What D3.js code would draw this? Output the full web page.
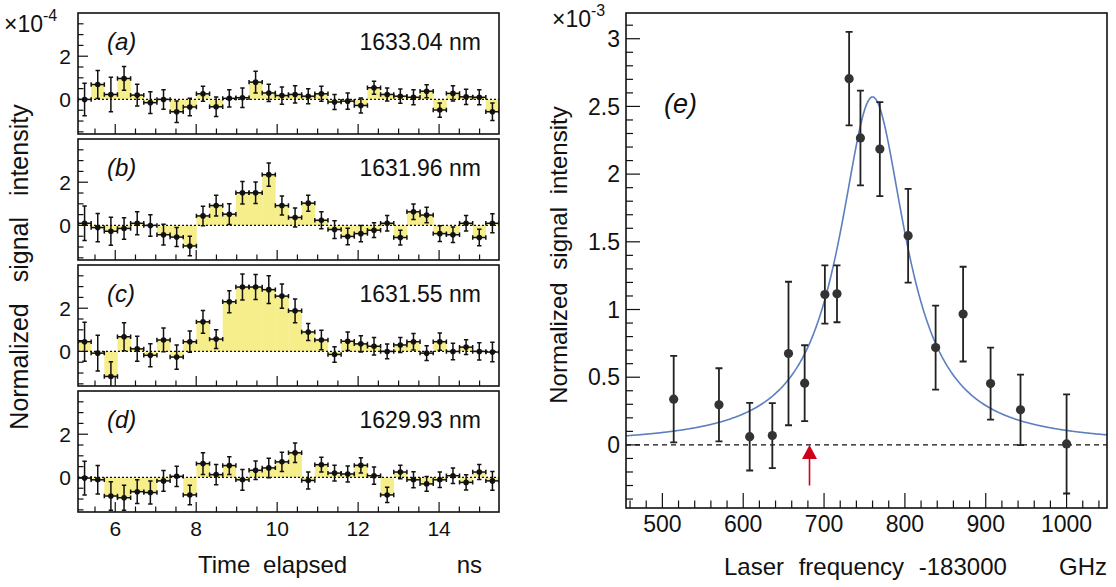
<!DOCTYPE html>
<html lang="en">
<head>
  <meta charset="UTF-8">
  <title>Normalized signal intensity</title>
  <style>
    body { margin: 0; background: #fff; }
    svg { display: block; font-family: "Liberation Sans", Arial, Helvetica, sans-serif; }
  </style>
</head>
<body>
  <svg id="chart" width="1116" height="587"></svg>

  <script src="https://d3js.org/d3.v7.min.js"></script>
  <script>
    // ---- data: panels (a)-(d), histogram bins in ns ----
    const binStart = 5.08;
    const binWidth = 0.325;
    const panelTags = ["(a)", "(b)", "(c)", "(d)"];
    const wavelengths = ["1633.04 nm", "1631.96 nm", "1631.55 nm", "1629.93 nm"];

    const sigA = [0.0, 0.69, 0.23, 0.97, 0.2, -0.15, 0.0, -0.57, -0.35, 0.26, -0.34, 0.05, 0.08, 0.8, 0.3, 0.18,
                  0.23, 0.15, 0.26, -0.12, -0.08, -0.28, 0.54, 0.23, 0.15, 0.1, 0.38, -0.49, 0.28, 0.12, 0.1, -0.57];
    const errA = [0.75, 0.65, 0.8, 0.55, 0.5, 0.5, 0.45, 0.5, 0.4, 0.35, 0.45, 0.4, 0.45, 0.5, 0.4, 0.4,
                  0.4, 0.35, 0.35, 0.35, 0.38, 0.35, 0.3, 0.3, 0.33, 0.35, 0.3, 0.33, 0.35, 0.35, 0.35, 0.4];

    const sigB = [0.1, -0.1, -0.27, -0.14, 0.1, 0.0, -0.43, -0.54, -0.95, 0.44, 0.92, 0.52, 1.51, 1.51, 2.35, 0.92,
                  0.37, 1.03, 0.24, -0.19, -0.51, -0.38, -0.22, 0.1, -0.56, 0.63, 0.48, -0.38, -0.43, 0.1, -0.56, 0.1];
    const errB = [0.8, 0.65, 0.65, 0.5, 0.53, 0.5, 0.48, 0.44, 0.45, 0.45, 0.48, 0.48, 0.52, 0.5, 0.54, 0.44,
                  0.44, 0.37, 0.39, 0.41, 0.38, 0.38, 0.34, 0.36, 0.34, 0.36, 0.36, 0.36, 0.36, 0.36, 0.38, 0.44];

    const sigC = [0.45, -0.08, -1.16, 0.68, 0.12, -0.18, 0.53, -0.26, 0.45, 1.37, 0.57, 2.3, 2.98, 2.98, 2.86, 2.56,
                  1.88, 0.9, 0.53, -0.14, 0.47, 0.35, 0.24, 0.0, 0.3, 0.45, -0.08, 0.45, 0.0, 0.2, 0.0, -0.03];
    const errC = [0.9, 0.83, 0.68, 0.65, 0.58, 0.53, 0.55, 0.56, 0.49, 0.53, 0.43, 0.51, 0.6, 0.58, 0.64, 0.56,
                  0.55, 0.39, 0.45, 0.36, 0.43, 0.38, 0.41, 0.34, 0.35, 0.38, 0.34, 0.4, 0.38, 0.34, 0.4, 0.45];

    const sigD = [-0.03, -0.11, -0.86, -0.94, -0.66, -0.7, -0.16, 0.05, -0.81, 0.64, 0.13, 0.55, -0.11, 0.33, 0.44, 0.72,
                  1.14, -0.14, 0.59, 0.2, 0.16, 0.56, 0.08, -0.81, 0.25, -0.11, -0.3, -0.11, 0.08, -0.23, 0.25, -0.16];
    const errD = [0.78, 0.66, 0.66, 0.58, 0.55, 0.53, 0.48, 0.47, 0.45, 0.5, 0.47, 0.41, 0.48, 0.43, 0.45, 0.44,
                  0.45, 0.39, 0.34, 0.36, 0.37, 0.35, 0.4, 0.35, 0.31, 0.37, 0.34, 0.36, 0.36, 0.35, 0.35, 0.43];

    const timeTicks = [6, 8, 10, 12, 14];
    const sigTicks = [0, 2];

    // ---- data: panel (e) ----
    const freq  = [514, 570, 608, 636, 656, 676, 701, 716, 731, 745, 769, 804, 838, 872, 906, 943, 1000];
    const inten = [0.338, 0.296, 0.061, 0.069, 0.675, 0.456, 1.111, 1.116, 2.705, 2.267, 2.185, 1.545, 0.719, 0.966, 0.453, 0.259, 0.007];
    const ierr  = [0.32, 0.27, 0.25, 0.24, 0.53, 0.28, 0.215, 0.21, 0.345, 0.35, 0.347, 0.346, 0.31, 0.35, 0.266, 0.26, 0.366];

    // Lorentzian fit
    const fitAmp = 2.57, fitCenter = 760, fitHalfWidth = 50;
    const arrowFreq = 682;

    const freqTicks = [500, 600, 700, 800, 900, 1000];
    const intenTicks = [0, 0.5, 1, 1.5, 2, 2.5, 3];

    const yellow = "#f6ee8a";
    const ink = "#111";

    const svg = d3.select("#chart");

    // =========== left panels ===========
    const series = [[sigA, errA], [sigB, errB], [sigC, errC], [sigD, errD]];
    const left = 78, right = 499, panelH = 121;
    const panelTops = [13, 139, 265, 391];

    const x = d3.scaleLinear().domain([5.08, 15.48]).range([left, right]);

    series.forEach(([vals, errs], p) => {
      const top = panelTops[p];
      const y = d3.scaleLinear().domain([-1.6, 4.0]).range([top + panelH, top]);
      const g = svg.append("g");

      g.append("clipPath").attr("id", "clip" + p)
        .append("rect").attr("x", left).attr("y", top).attr("width", right - left).attr("height", panelH);

      const bins = vals.map((v, i) => ({
        x0: binStart + i * binWidth,
        x1: binStart + (i + 1) * binWidth,
        v: v,
        e: errs[i]
      }));

      const plot = g.append("g").attr("clip-path", `url(#clip${p})`);

      plot.selectAll("rect.bar")
        .data(bins)
        .join("rect")
        .attr("class", "bar")
        .attr("x", d => x(d.x0))
        .attr("width", d => x(d.x1) - x(d.x0) + 0.3)
        .attr("y", d => Math.min(y(0), y(d.v)))
        .attr("height", d => Math.abs(y(0) - y(d.v)))
        .attr("fill", yellow);

      plot.append("line")
        .attr("x1", left).attr("x2", right)
        .attr("y1", y(0)).attr("y2", y(0))
        .attr("stroke", ink).attr("stroke-width", 1.2)
        .attr("stroke-dasharray", "2,2");

      const pt = plot.selectAll("g.pt")
        .data(bins)
        .join("g")
        .attr("class", "pt")
        .attr("stroke", ink)
        .attr("stroke-width", 1.5);

      const cap = 2.2;
      pt.append("line")
        .attr("x1", d => x(d.x0)).attr("x2", d => x(d.x1))
        .attr("y1", d => y(d.v)).attr("y2", d => y(d.v));
      pt.append("line")
        .attr("x1", d => x((d.x0 + d.x1) / 2)).attr("x2", d => x((d.x0 + d.x1) / 2))
        .attr("y1", d => y(d.v - d.e)).attr("y2", d => y(d.v + d.e));
      // caps
      pt.append("path")
        .attr("fill", "none")
        .attr("d", d => {
          const cx = x((d.x0 + d.x1) / 2), cy = y(d.v);
          const ya = y(d.v + d.e), yb = y(d.v - d.e);
          return `M${cx - cap},${ya}H${cx + cap}M${cx - cap},${yb}H${cx + cap}` +
                 `M${x(d.x0)},${cy - cap}V${cy + cap}M${x(d.x1)},${cy - cap}V${cy + cap}`;
        });
      pt.append("circle")
        .attr("cx", d => x((d.x0 + d.x1) / 2))
        .attr("cy", d => y(d.v))
        .attr("r", 2.8)
        .attr("fill", ink)
        .attr("stroke", "none");

      // y ticks (inside)
      const yMinor = d3.range(-1.5, 4.0, 0.5);
      g.selectAll("line.ym")
        .data(yMinor)
        .join("line")
        .attr("x1", left).attr("x2", d => left + (sigTicks.includes(d) ? 10 : 5.5))
        .attr("y1", d => y(d)).attr("y2", d => y(d))
        .attr("stroke", ink).attr("stroke-width", 1.2);

      g.selectAll("text.yl")
        .data(sigTicks)
        .join("text")
        .attr("x", left - 7)
        .attr("y", d => y(d))
        .attr("dy", "0.36em")
        .attr("text-anchor", "end")
        .attr("font-size", 21)
        .attr("fill", ink)
        .text(d => d);

      // x ticks (inside, from bottom edge)
      const xMinor = d3.range(5.5, 15.5, 0.5);
      g.selectAll("line.xm")
        .data(xMinor)
        .join("line")
        .attr("x1", d => x(d)).attr("x2", d => x(d))
        .attr("y1", top + panelH)
        .attr("y2", d => top + panelH - (timeTicks.includes(d) ? 10 : 5.5))
        .attr("stroke", ink).attr("stroke-width", 1.2);

      // frame
      g.append("rect")
        .attr("x", left).attr("y", top)
        .attr("width", right - left).attr("height", panelH)
        .attr("fill", "none").attr("stroke", ink).attr("stroke-width", 1.6);

      g.append("text")
        .attr("x", 107).attr("y", top + 37)
        .attr("font-size", 24).attr("font-style", "italic").attr("fill", ink)
        .text(panelTags[p]);

      g.append("text")
        .attr("x", 481).attr("y", top + 37)
        .attr("text-anchor", "end")
        .attr("font-size", 23).attr("fill", ink)
        .text(wavelengths[p]);

      if (p === 3) {
        g.selectAll("text.xl")
          .data(timeTicks)
          .join("text")
          .attr("x", d => x(d))
          .attr("y", 536)
          .attr("text-anchor", "middle")
          .attr("font-size", 21)
          .attr("fill", ink)
          .text(d => d);
      }
    });

    // exponent label for left panels
    const expL = svg.append("text").attr("x", 4).attr("y", 32).attr("fill", ink).attr("font-size", 23);
    expL.append("tspan").text("×10");
    expL.append("tspan").attr("font-size", 16).attr("dy", -11).text("-4");

    svg.append("text")
      .attr("transform", "translate(28,267) rotate(-90)")
      .attr("text-anchor", "middle")
      .attr("font-size", 25)
      .attr("word-spacing", 14)
      .attr("fill", ink)
      .text("Normalized signal intensity");

    svg.append("text")
      .attr("x", 198).attr("y", 573)
      .attr("font-size", 24).attr("word-spacing", 6).attr("fill", ink)
      .text("Time elapsed");
    svg.append("text")
      .attr("x", 482).attr("y", 573)
      .attr("text-anchor", "end")
      .attr("font-size", 24).attr("fill", ink)
      .text("ns");

    // =========== panel (e) ===========
    const eL = 626, eR = 1107, eT = 13, eB = 508;
    const fx = d3.scaleLinear().domain([455, 1050]).range([eL, eR]);
    const fy = d3.scaleLinear().domain([-0.466, 3.19]).range([eB, eT]);
    const ge = svg.append("g");

    ge.append("clipPath").attr("id", "clipE")
      .append("rect").attr("x", eL).attr("y", eT).attr("width", eR - eL).attr("height", eB - eT);
    const pe = ge.append("g").attr("clip-path", "url(#clipE)");

    pe.append("line")
      .attr("x1", eL).attr("x2", eR)
      .attr("y1", fy(0)).attr("y2", fy(0))
      .attr("stroke", ink).attr("stroke-width", 1.4)
      .attr("stroke-dasharray", "5,4");

    const fitPts = d3.range(455, 1051, 1).map(f => [f, fitAmp / (1 + ((f - fitCenter) / fitHalfWidth) ** 2)]);
    pe.append("path")
      .datum(fitPts)
      .attr("fill", "none")
      .attr("stroke", "#5b7fbf")
      .attr("stroke-width", 1.6)
      .attr("d", d3.line().x(d => fx(d[0])).y(d => fy(d[1])));

    // arrow
    const ax = fx(arrowFreq);
    pe.append("line")
      .attr("x1", ax).attr("x2", ax)
      .attr("y1", fy(0) + 12).attr("y2", fy(-0.3))
      .attr("stroke", "#d0021b").attr("stroke-width", 1.6);
    pe.append("path")
      .attr("d", `M${ax},${fy(0)}L${ax - 7.5},${fy(0) + 14}L${ax + 7.5},${fy(0) + 14}Z`)
      .attr("fill", "#d0021b");

    const pts = freq.map((f, i) => ({ f: f, v: inten[i], e: ierr[i] }));
    const ep = pe.selectAll("g.ep")
      .data(pts)
      .join("g")
      .attr("stroke", "#222")
      .attr("stroke-width", 1.8);
    ep.append("path")
      .attr("fill", "none")
      .attr("d", d => {
        const cx = fx(d.f), ya = fy(d.v + d.e), yb = fy(d.v - d.e);
        return `M${cx},${ya}V${yb}M${cx - 3.5},${ya}H${cx + 3.5}M${cx - 3.5},${yb}H${cx + 3.5}`;
      });
    ep.append("circle")
      .attr("cx", d => fx(d.f))
      .attr("cy", d => fy(d.v))
      .attr("r", 4.6)
      .attr("fill", "#333")
      .attr("stroke", "none");

    // y ticks
    const eyMinor = d3.range(-4, 32).map(k => k / 10);
    ge.selectAll("line.eym")
      .data(eyMinor)
      .join("line")
      .attr("x1", eL)
      .attr("x2", d => eL + (Math.round(d * 10) % 5 === 0 ? 14 : 7))
      .attr("y1", d => fy(d)).attr("y2", d => fy(d))
      .attr("stroke", ink).attr("stroke-width", 1.2);
    ge.selectAll("text.eyl")
      .data(intenTicks)
      .join("text")
      .attr("x", eL - 6)
      .attr("y", d => fy(d))
      .attr("dy", "0.36em")
      .attr("text-anchor", "end")
      .attr("font-size", 23)
      .attr("fill", ink)
      .text(d => d);

    // x ticks
    const exMinor = d3.range(460, 1050, 20);
    ge.selectAll("line.exm")
      .data(exMinor)
      .join("line")
      .attr("x1", d => fx(d)).attr("x2", d => fx(d))
      .attr("y1", eB)
      .attr("y2", d => eB - (d % 100 === 0 ? 15 : 7.5))
      .attr("stroke", ink).attr("stroke-width", 1.2);
    ge.selectAll("text.exl")
      .data(freqTicks)
      .join("text")
      .attr("x", d => fx(d))
      .attr("y", 532)
      .attr("text-anchor", "middle")
      .attr("font-size", 23)
      .attr("fill", ink)
      .text(d => d);

    ge.append("rect")
      .attr("x", eL).attr("y", eT)
      .attr("width", eR - eL).attr("height", eB - eT)
      .attr("fill", "none").attr("stroke", ink).attr("stroke-width", 1.6);

    ge.append("text")
      .attr("x", 664).attr("y", 113)
      .attr("font-size", 27).attr("font-style", "italic").attr("fill", ink)
      .text("(e)");

    const expR = svg.append("text").attr("x", 552).attr("y", 27).attr("fill", ink).attr("font-size", 23);
    expR.append("tspan").text("×10");
    expR.append("tspan").attr("font-size", 16).attr("dy", -11).text("-3");

    svg.append("text")
      .attr("transform", "translate(567,255) rotate(-90)")
      .attr("text-anchor", "middle")
      .attr("font-size", 24)
      .attr("word-spacing", 6)
      .attr("fill", ink)
      .text("Normalized signal intensity");

    svg.append("text")
      .attr("x", 724).attr("y", 575)
      .attr("font-size", 24).attr("word-spacing", 8).attr("fill", ink)
      .text("Laser frequency -183000");
    svg.append("text")
      .attr("x", eR).attr("y", 575)
      .attr("text-anchor", "end")
      .attr("font-size", 24).attr("fill", ink)
      .text("GHz");
  </script>
</body>
</html>
